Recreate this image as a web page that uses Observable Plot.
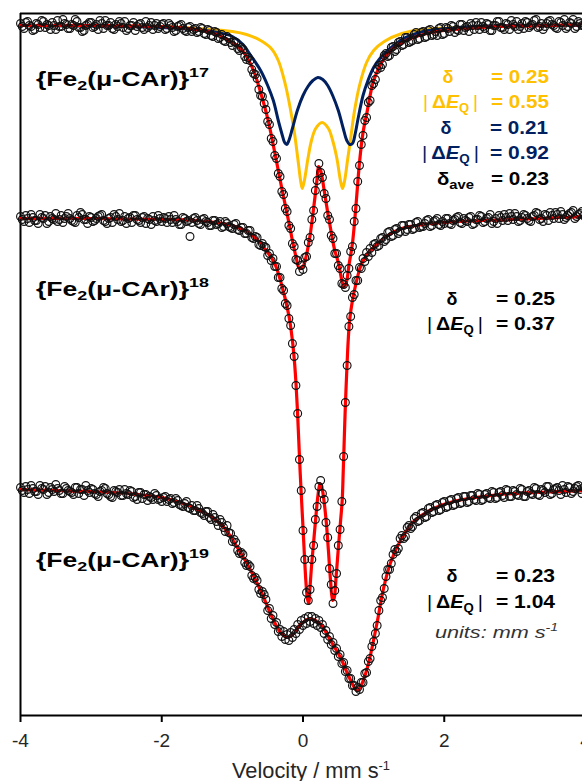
<!DOCTYPE html>
<html><head><meta charset="utf-8">
<script src="https://cdn.jsdelivr.net/npm/d3@7"></script>
<script src="https://cdn.jsdelivr.net/npm/@observablehq/plot@0.6"></script>
<style>html,body{margin:0;padding:0;background:#fff;overflow:hidden;} svg{display:block;}</style>
</head><body><div id="chart"></div>
<script>
// Velocity channels (mm/s) of the measured points
const velocity = [
-4,-3.95,-3.9,-3.85,-3.8,-3.75,-3.7,-3.65,-3.6,-3.55,-3.5,-3.45,-3.4,-3.35,-3.3,-3.25,-3.2,-3.15,-3.1,-3.05,
-3,-2.95,-2.9,-2.85,-2.8,-2.75,-2.7,-2.65,-2.6,-2.55,-2.5,-2.45,-2.4,-2.35,-2.3,-2.25,-2.2,-2.15,-2.1,-2.05,
-2,-1.95,-1.9,-1.85,-1.8,-1.75,-1.7,-1.65,-1.6,-1.55,-1.5,-1.45,-1.4,-1.35,-1.3,-1.25,-1.2,-1.15,-1.1,-1.05,
-1,-0.95,-0.9,-0.85,-0.8,-0.75,-0.7,-0.65,-0.6,-0.55,
-0.525,-0.5,-0.475,-0.45,-0.425,-0.4,-0.375,-0.35,-0.325,-0.3,-0.275,-0.25,-0.225,-0.2,-0.175,-0.15,-0.125,-0.1,-0.075,-0.05,
-0.025,0,0.025,0.05,0.075,0.1,0.125,0.15,0.175,0.2,0.225,0.25,0.275,0.3,0.325,0.35,0.375,0.4,0.425,0.45,
0.475,0.5,0.525,0.55,0.575,0.6,0.625,0.65,0.675,0.7,0.725,0.75,0.775,0.8,0.825,0.85,0.875,0.9,0.925,0.95,0.975,1,
1.05,1.1,1.15,1.2,1.25,1.3,1.35,1.4,1.45,1.5,1.55,1.6,1.65,1.7,1.75,1.8,1.85,1.9,1.95,2,
2.05,2.1,2.15,2.2,2.25,2.3,2.35,2.4,2.45,2.5,2.55,2.6,2.65,2.7,2.75,2.8,2.85,2.9,2.95,3,
3.05,3.1,3.15,3.2,3.25,3.3,3.35,3.4,3.45,3.5,3.55,3.6,3.65,3.7,3.75,3.8,3.85,3.9,3.95,4];

// Measured counts (arb. units, spectra stacked)
const counts17 = [
692,687,694,689,686,691,695,688,690,693,686,689,696,691,687,690,694,688,685,691,
693,689,686,692,695,690,687,691,694,688,685,690,693,689,692,686,688,693,690,687,
691,686,692,688,685,690,687,684,689,686,683,688,682,686,680,684,677,681,674,677,
670,673,665,666,656,655,642,637,620,612,
606,594,591,577,574,560,557,542,539,524,521,507,504,490,487,472,469,456,455,444,
450,446,458,459,473,478,496,505,525,535,552,543,538,522,517,500,496,480,477,462,
462,450,447,432,431,428,440,447,464,469,494,507,534,550,571,580,595,598,613,615,630,632,
646,648,660,659,668,664,673,670,678,673,675,683,677,684,679,686,681,680,688,682,
687,690,683,685,691,688,684,690,693,686,689,692,685,690,694,688,686,691,695,689,
686,692,694,688,691,696,689,686,692,695,690,687,693,696,689,692,687,694,690,693];

const counts18 = [
499,494,497,501,495,492,498,500,494,497,502,496,493,499,497,494,500,503,496,492,
498,495,499,501,494,497,493,499,502,495,492,498,500,496,493,499,497,491,495,500,
494,497,499,493,496,491,498,494,479,497,495,491,497,493,490,495,492,488,494,489,
487,492,485,488,482,485,477,478,470,469,
468,460,462,455,457,449,449,438,438,427,425,412,410,397,390,372,359,330,302,256,
225,185,156,123,115,126,156,170,196,209,229,235,222,216,193,178,147,131,112,125,
142,170,186,214,259,313,350,389,399,418,421,435,435,448,447,457,454,463,459,467,463,471,
469,477,474,483,479,486,482,490,484,491,486,493,488,489,495,489,494,497,490,492,
497,491,496,499,492,495,498,491,496,500,493,497,501,494,492,498,501,495,499,502,
494,498,500,495,499,503,496,494,500,503,497,501,504,496,500,503,497,501,504,498];

const counts19 = [
228,223,226,230,224,221,227,229,223,226,231,225,222,227,224,221,228,226,220,225,
227,222,219,225,227,221,218,224,226,220,222,225,218,216,223,221,215,218,222,216,
214,219,216,212,217,211,209,214,207,205,210,203,200,204,196,198,190,193,184,183,
174,173,162,161,150,149,137,135,122,121,
116,105,107,97,100,91,93,84,86,79,84,76,81,75,83,78,86,82,91,86,
95,90,97,92,99,94,99,92,97,90,95,88,91,82,85,76,79,71,73,65,
67,59,61,52,53,44,45,37,37,30,30,24,28,26,33,33,42,43,54,57,69,74,
90,115,127,146,152,166,167,180,179,190,189,199,195,203,199,208,204,211,206,214,
209,216,211,218,213,219,214,220,215,221,216,222,217,223,218,224,218,225,219,224,
220,226,219,225,221,227,220,225,229,221,226,228,221,226,229,222,227,230,222,227];

// Second half of the channels (interleaved velocities, wings of the spectra)
const velocity2 = [
-3.975,-3.925,-3.875,-3.825,-3.775,-3.725,-3.675,-3.625,-3.575,-3.525,
-3.475,-3.425,-3.375,-3.325,-3.275,-3.225,-3.175,-3.125,-3.075,-3.025,
-2.975,-2.925,-2.875,-2.825,-2.775,-2.725,-2.675,-2.625,-2.575,-2.525,
-2.475,-2.425,-2.375,-2.325,-2.275,-2.225,-2.175,-2.125,-2.075,-2.025,
-1.975,-1.925,-1.875,-1.825,-1.775,-1.725,-1.675,-1.625,-1.575,-1.525,
-1.475,-1.425,-1.375,-1.325,-1.275,-1.225,-1.175,-1.125,-1.075,-1.025,
-0.975,-0.925,-0.875,-0.825,-0.775,-0.725,-0.675,-0.625,-0.575,
1.025,1.075,1.125,1.175,1.225,1.275,1.325,1.375,1.425,1.475,
1.525,1.575,1.625,1.675,1.725,1.775,1.825,1.875,1.925,1.975,
2.025,2.075,2.125,2.175,2.225,2.275,2.325,2.375,2.425,2.475,
2.525,2.575,2.625,2.675,2.725,2.775,2.825,2.875,2.925,2.975,
3.025,3.075,3.125,3.175,3.225,3.275,3.325,3.375,3.425,3.475,
3.525,3.575,3.625,3.675,3.725,3.775,3.825,3.875,3.925,3.975];

const counts17b = [
689,693,690,685,692,688,694,691,686,690,695,689,692,687,691,696,688,684,690,693,
688,691,695,687,690,693,686,689,692,694,687,690,685,691,688,694,690,686,692,689,
692,687,690,684,689,691,685,688,684,687,684,687,681,685,679,683,678,675,679,673,
674,667,668,659,658,646,641,626,619,
636,650,651,662,660,669,666,674,671,678,674,681,676,683,678,685,680,684,687,681,
688,684,689,686,691,685,689,692,686,690,693,687,691,685,690,694,688,692,686,691,
694,689,687,693,690,695,688,692,689,694,691,688,694,690,687,693,696,689,692,690];

const counts18b = [
496,500,493,498,495,501,497,492,499,496,494,500,497,502,495,493,498,501,496,499,
494,497,500,495,492,498,501,496,494,499,497,493,500,495,498,492,496,499,494,497,
498,493,496,500,494,491,497,495,493,498,492,496,494,490,495,491,494,489,492,488,
491,486,488,482,485,478,479,471,472,
472,470,478,476,484,480,487,484,490,486,491,487,494,489,492,496,490,495,491,494,
497,492,495,498,493,497,494,499,492,496,499,494,498,492,497,500,495,498,502,496,
499,495,501,497,494,500,502,497,501,495,500,503,497,501,498,502,505,499,502,500];

const counts19b = [
225,229,222,227,224,230,226,221,228,224,227,222,229,225,223,228,222,226,230,223,
226,221,224,228,222,219,225,223,220,226,221,224,219,223,217,221,219,216,220,217,
218,214,217,213,215,210,212,208,210,205,207,202,204,198,201,194,196,188,190,182,
176,165,163,153,151,140,138,126,124,
82,105,118,139,146,161,164,177,177,188,187,197,194,202,198,207,203,210,205,213,
208,215,210,217,212,219,213,220,216,222,215,221,218,224,217,223,220,226,219,225,
221,227,219,224,222,228,221,226,223,229,222,227,225,230,223,228,224,229,226,228];

// Fits (red)
const fit17V = [-4,-3,-2,-1.6,-1.3,-1.1,-0.9,-0.8,-0.7,-0.6,-0.5,-0.4,-0.3,-0.2,-0.15,-0.1,-0.05,0,0.05,0.1,0.15,0.2,0.22,0.25,0.3,0.35,0.4,0.45,0.5,0.55,0.58,0.62,0.65,0.7,0.75,0.8,0.85,0.9,1,1.1,1.2,1.4,1.6,1.9,2.3,2.8,3.5,4];
const fit17Y = [690,690,689,687,683,677,668,659,645,623,597,563,527,493,475,459,447,449,461,480,507,537,549,545,525,503,483,465,453,435,428,435,450,472,510,553,583,601,635,651,662,673,679,684,687,689,690,691];
const fit18V = [-4,-3,-2,-1.5,-1,-0.75,-0.6,-0.5,-0.4,-0.3,-0.2,-0.15,-0.12,-0.1,-0.08,-0.06,-0.04,-0.02,0,0.02,0.04,0.06,0.08,0.1,0.12,0.15,0.18,0.21,0.24,0.27,0.3,0.33,0.36,0.39,0.42,0.44,0.47,0.5,0.53,0.555,0.57,0.585,0.6,0.62,0.64,0.66,0.7,0.75,0.82,0.9,1,1.2,1.4,1.7,2.2,3,4];
const fit18Y = [497,497,496,495,490,482,472,463,452,430,400,375,353,333,307,275,243,215,188,160,135,118,112,129,149,173,197,219,232,227,213,193,165,135,115,117,140,167,193,215,245,278,310,345,375,395,415,432,450,460,468,480,487,491,494,496,499];
const fit19V = [-4,-3.5,-3,-2.5,-2,-1.55,-1.17,-0.93,-0.74,-0.6,-0.46,-0.32,-0.22,-0.13,-0.035,0.1,0.25,0.39,0.53,0.63,0.72,0.77,0.83,0.9,0.96,1.055,1.14,1.24,1.38,1.57,1.85,2.13,2.8,3.3,4];
const fit19Y = [226,225,224,222,218,208,192,168,145,125,102,83,78,82,91,97,91,75,58,42,29,25,31,45,62,95,127,153,175,194,207,214,221,223,225];

// Components of spectrum 17
const yellowV = [-4,-2,-1.5,-1,-0.8,-0.6,-0.45,-0.35,-0.25,-0.18,-0.12,-0.07,-0.03,-0.01,0.02,0.07,0.12,0.18,0.27,0.36,0.42,0.48,0.53,0.56,0.59,0.63,0.68,0.73,0.8,0.9,1,1.15,1.4,1.7,2.2,3,4];
const yellowY = [690,689,687,684,681,675,667,655,631,607,582,555,533,527,535,557,575,587,593,587,575,557,535,527,535,555,580,605,630,653,665,674,682,686,688,690,690];
const navyV = [-4,-2.5,-2,-1.5,-1.2,-1,-0.85,-0.74,-0.6,-0.5,-0.42,-0.35,-0.3,-0.26,-0.23,-0.2,-0.15,-0.08,0,0.07,0.14,0.21,0.28,0.35,0.42,0.5,0.57,0.62,0.66,0.7,0.74,0.78,0.85,0.92,1,1.1,1.2,1.4,1.7,2.2,3,4];
const navyY = [690,689,688,686,683,679,671,660,645,630,615,595,582,573,571,575,587,605,620,629,635,638,636,630,620,605,587,575,571,572,582,597,620,635,648,658,665,676,684,688,690,690];

const xTicks = [-4, -2, 0, 2, 4];

const rows = (vs, ys) => vs.map((v, i) => ({v, y: ys[i]}));
const FONT = "'Liberation Sans', Arial, Helvetica, sans-serif";
const RED = "#FF0000", YEL = "#FFC000", NAVY = "#002060";

const lineOpts = (stroke, w) => ({x: "v", y: "y", stroke, strokeWidth: w, curve: "catmull-rom"});
const dotOpts = {x: "v", y: "y", r: 3.9, stroke: "#111", strokeWidth: 1.15, fill: "none"};

const chart = Plot.plot({
  width: 582, height: 781,
  marginTop: 13, marginBottom: 66, marginLeft: 20, marginRight: 0,
  style: {fontFamily: FONT, background: "white", color: "black"},
  x: {domain: [-4, 4], range: [20, 585]},
  y: {domain: [0, 702], axis: null},
  marks: [
    Plot.ruleY([702], {stroke: "black", strokeWidth: 2}),
    Plot.ruleX([-4], {stroke: "black", strokeWidth: 2}),
    Plot.line(rows(yellowV, yellowY), lineOpts(YEL, 3)),
    Plot.line(rows(navyV, navyY), lineOpts(NAVY, 3)),
    Plot.line(rows(fit17V, fit17Y), lineOpts(RED, 3.2)),
    Plot.line(rows(fit18V, fit18Y), lineOpts(RED, 3.2)),
    Plot.line(rows(fit19V, fit19Y), lineOpts(RED, 3.2)),
    Plot.dot(rows(velocity, counts17), dotOpts),
    Plot.dot(rows(velocity2, counts17b), dotOpts),
    Plot.dot(rows(velocity, counts18), dotOpts),
    Plot.dot(rows(velocity2, counts18b), dotOpts),
    Plot.dot(rows(velocity, counts19), dotOpts),
    Plot.dot(rows(velocity2, counts19b), dotOpts),
    Plot.ruleY([0], {stroke: "black", strokeWidth: 2}),
    Plot.axisX({ticks: xTicks, tickFormat: d => String(d), tickSize: 7, tickPadding: 11,
      fontSize: 19, strokeWidth: 2, stroke: "black", fill: "#262626", label: null})
  ]
});
document.getElementById("chart").appendChild(chart);

// Rich-text annotations (layout only)
const ann = d3.select(chart).append("g").attr("font-family", FONT);
function rich({x, y, anchor = "start", size = 18, weight = "bold", fill = "black", style, len, parts}) {
  const t = ann.append("text").attr("x", x).attr("y", y).attr("text-anchor", anchor)
    .attr("font-size", size).attr("font-weight", weight).attr("fill", fill);
  if (style) t.attr("font-style", style);
  let shift = 0;
  for (const p of parts) {
    const s = t.append("tspan").text(p.t);
    const target = p.shift || 0;
    const dy = target - shift; shift = target;
    if (dy) s.attr("dy", dy);
    if (p.size) s.attr("font-size", p.size);
    if (p.weight) s.attr("font-weight", p.weight);
    if (p.italic) s.attr("font-style", "italic");
  }
  if (len) t.attr("textLength", len).attr("lengthAdjust", "spacingAndGlyphs");
}
const label = (sup, y) => rich({x: 36, y, size: 20, len: 173, parts: [
  {t: "{Fe"}, {t: "2", size: 13.5, shift: 4}, {t: "(μ-CAr)}"}, {t: sup, size: 13.5, shift: -9}]});
label("17", 86); label("18", 296); label("19", 567);

const delta = (cx, y, fill) => rich({x: cx, y, anchor: "middle", fill, parts: [{t: "δ"}]});
const dEq = (x, y, fill, len) => rich({x, y, fill, len, parts: [
  {t: "|", weight: "normal"}, {t: "\u2009"}, {t: "Δ"}, {t: "E", italic: true},
  {t: "Q", size: 12, shift: 4}, {t: "\u2009"}, {t: "|", weight: "normal"}]});
const val = (x, y, fill, text, len) => rich({x, y, fill, len, parts: [{t: text}]});

// spectrum 17
delta(448, 83, YEL);            val(491, 83, YEL, "= 0.25", 58);
dEq(423, 108, YEL, 55);         val(491, 108, YEL, "= 0.55", 58);
delta(446, 134, NAVY);          val(490, 134, NAVY, "= 0.21", 58);
dEq(422, 159, NAVY, 57);        val(490, 159, NAVY, "= 0.92", 59);
rich({x: 437, y: 185, len: 37, parts: [{t: "δ"}, {t: "ave", size: 13, shift: 4}]});
val(491, 185, "black", "= 0.23", 58);
// spectrum 18
delta(452, 305, "black");       val(496, 305, "black", "= 0.25", 59);
dEq(427, 330, "black", 56);     val(496, 330, "black", "= 0.37", 59);
// spectrum 19
delta(452, 582, "black");       val(496, 582, "black", "= 0.23", 59);
dEq(427, 608, "black", 56);     val(496, 608, "black", "= 1.04", 59);
rich({x: 435, y: 638, size: 17, weight: "normal", style: "italic", fill: "#333", len: 123,
  parts: [{t: "units: mm s"}, {t: "-1", size: 11, shift: -7}]});

// x-axis title
rich({x: 311, y: 778, anchor: "middle", size: 22, weight: "normal", fill: "#262626", len: 158,
  parts: [{t: "Velocity / mm s"}, {t: "-1", size: 13, shift: -8}]});
</script></body></html>
